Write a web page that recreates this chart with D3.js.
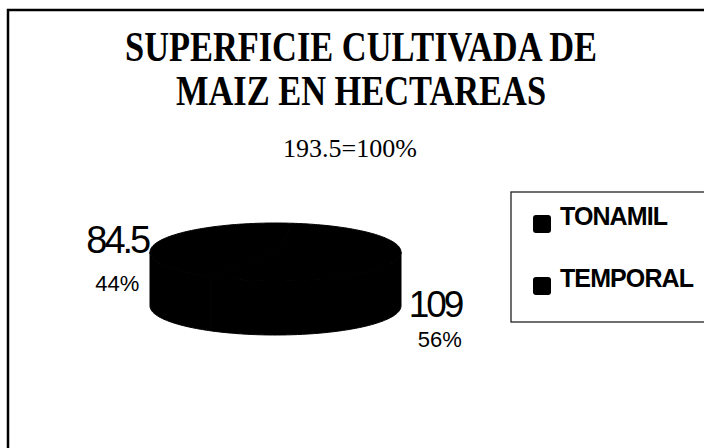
<!DOCTYPE html>
<html>
<head>
<meta charset="utf-8">
<script src="https://cdn.jsdelivr.net/npm/d3@7"></script>
<style>
  html, body { margin: 0; padding: 0; background: #fff; }
  svg { display: block; }
</style>
</head>
<body>
<svg id="chart"></svg>
<script>
const W = 704;
const H = 448;

// ── Data ──────────────────────────────────────────────────────────────────────

const TITLE_LINES = ['SUPERFICIE CULTIVADA DE', 'MAIZ EN HECTAREAS'];
const TOTAL_LABEL = '193.5=100%';
const CATEGORIES  = ['TONAMIL', 'TEMPORAL'];
const VALUES      = [84.5, 109];
const PERCENTS    = ['44%', '56%'];
const VALUE_TEXT  = ['84.5', '109'];

// ── Layout ────────────────────────────────────────────────────────────────────

const CX = 275.5, CY = 252;   // centre of the top face
const RX = 125.5, RY = 29;    // ellipse radii
const DEPTH = 54;             // thickness of the pie
const START = 211 * Math.PI / 180;

const color = d3.scaleOrdinal().domain(CATEGORIES).range(['#000', '#000']);

const svg = d3.select('#chart').attr('width', W).attr('height', H);

// frame (scanned page: only top and left edge visible)
svg.append('path')
  .attr('d', `M8,${H + 5}V10H${W + 5}`)
  .attr('fill', 'none')
  .attr('stroke', '#000')
  .attr('stroke-width', 2.5);

// ── Titles ────────────────────────────────────────────────────────────────────

const titleFont = '"Liberation Serif", "Times New Roman", serif';

// title is set condensed: squeeze horizontally around the centre line
const titleG = svg.append('g')
  .attr('transform', 'translate(361,0) scale(0.8,1)')
  .attr('font-family', titleFont)
  .attr('font-weight', 'bold')
  .attr('font-size', 43)
  .attr('text-anchor', 'middle');

titleG.selectAll('text')
  .data(TITLE_LINES)
  .join('text')
  .attr('x', 0)
  .attr('y', (d, i) => 61 + i * 44)
  .text(d => d);

svg.append('text')
  .attr('x', 350).attr('y', 157)
  .attr('text-anchor', 'middle')
  .attr('font-family', titleFont).attr('font-size', 26)
  .text(TOTAL_LABEL);

// ── 3D pie ────────────────────────────────────────────────────────────────────

const pie = d3.pie().sort(null).startAngle(START).endAngle(START + 2 * Math.PI);
const arcs = pie(VALUES);

const pt = (a, dy = 0) => [CX + RX * Math.sin(a), CY - RY * Math.cos(a) + dy];
const samples = (a0, a1) => {
  const n = Math.max(2, Math.ceil((a1 - a0) / 0.02));
  return d3.range(n + 1).map(i => a0 + (a1 - a0) * i / n);
};
const line = d3.line();

// front-facing parts of each slice (angles between 90° and 270°, mod 360°)
function frontRanges(a0, a1) {
  const out = [];
  for (let k = -1; k <= 2; k++) {
    const lo = Math.max(a0, Math.PI / 2 + 2 * Math.PI * k);
    const hi = Math.min(a1, 3 * Math.PI / 2 + 2 * Math.PI * k);
    if (hi > lo) out.push([lo, hi]);
  }
  return out;
}

const pieG = svg.append('g');

arcs.forEach((d, i) => {
  frontRanges(d.startAngle, d.endAngle).forEach(([lo, hi]) => {
    const s = samples(lo, hi);
    const pts = s.map(a => pt(a)).concat(s.slice().reverse().map(a => pt(a, DEPTH)));
    pieG.append('path')
      .attr('d', line(pts) + 'Z')
      .attr('fill', color(CATEGORIES[i]))
      .attr('stroke', color(CATEGORIES[i]))
      .attr('stroke-width', 1);
  });
});

arcs.forEach((d, i) => {
  const pts = [[CX, CY]].concat(samples(d.startAngle, d.endAngle).map(a => pt(a)));
  pieG.append('path')
    .attr('d', line(pts) + 'Z')
    .attr('fill', color(CATEGORIES[i]))
    .attr('stroke', color(CATEGORIES[i]))
    .attr('stroke-width', 1);
});

// ── Slice labels ──────────────────────────────────────────────────────────────

const labelFont = '"Liberation Sans", Arial, sans-serif';

arcs.forEach((d, i) => {
  const mid = (d.startAngle + d.endAngle) / 2;
  const [px, py] = pt(mid);
  const left = Math.sin(mid) < 0;
  const g = svg.append('g')
    .attr('font-family', labelFont)
    .attr('text-anchor', left ? 'end' : 'start');

  if (left) {
    g.append('text').attr('x', px - 9).attr('y', py + 11)
      .attr('font-size', 38).attr('letter-spacing', -3).text(VALUE_TEXT[i]);
    g.append('text').attr('x', px - 18).attr('y', py + 49)
      .attr('font-size', 22).text(PERCENTS[i]);
  } else {
    g.append('text').attr('x', px + 15).attr('y', py + DEPTH + 1)
      .attr('font-size', 37).attr('letter-spacing', -3).text(VALUE_TEXT[i]);
    g.append('text').attr('x', px + 24).attr('y', py + DEPTH + 31)
      .attr('font-size', 22).text(PERCENTS[i]);
  }
});

// ── Legend ────────────────────────────────────────────────────────────────────

const legend = svg.append('g').attr('transform', 'translate(511,192)');

legend.append('rect')
  .attr('width', 210).attr('height', 130)
  .attr('fill', 'none')
  .attr('stroke', '#222')
  .attr('stroke-width', 1.3);

const item = legend.selectAll('g.item')
  .data(CATEGORIES)
  .join('g')
  .attr('class', 'item')
  .attr('transform', (d, i) => `translate(0,${33 + i * 62})`);

item.append('rect')
  .attr('x', 22).attr('y', -10)
  .attr('width', 18).attr('height', 18)
  .attr('rx', 3)
  .attr('fill', d => color(d));

item.append('text')
  .attr('x', 49).attr('y', 0)
  .attr('font-family', labelFont)
  .attr('font-weight', 'bold')
  .attr('font-size', 25)
  .attr('letter-spacing', -0.9)
  .text(d => d);
</script>
</body>
</html>
